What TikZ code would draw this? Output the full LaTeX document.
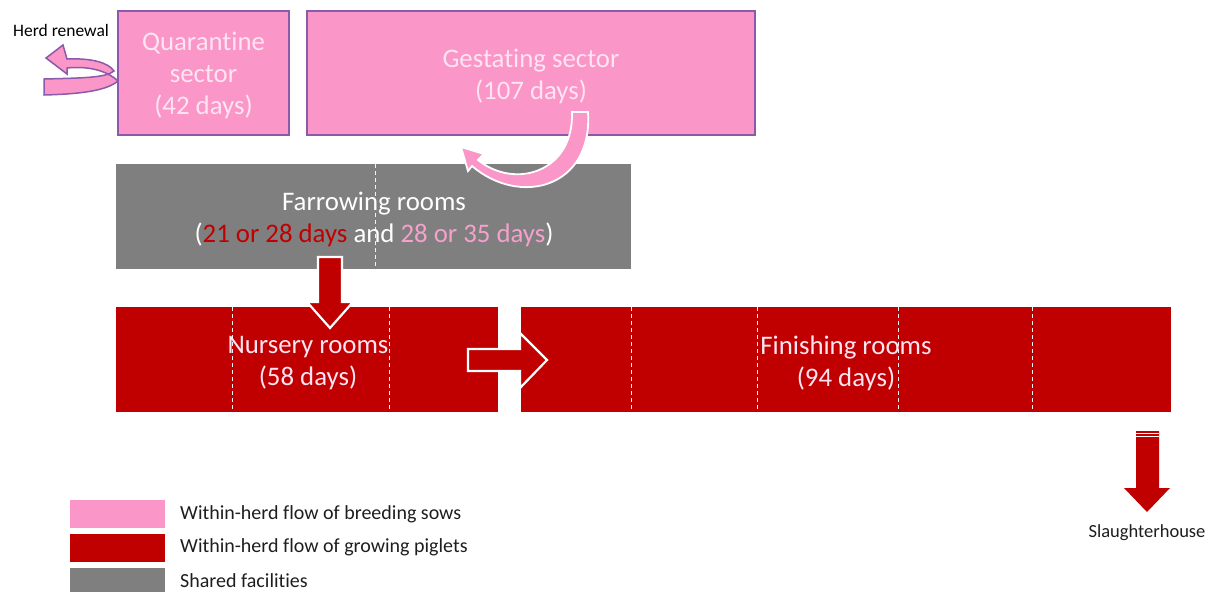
\documentclass[tikz,border=0pt]{standalone}
\usepackage{fontspec}
\setmainfont{Carlito}[Ligatures=NoCommon, Contextuals=NoAlternate]
\definecolor{pinkf}{RGB}{250,150,200}
\definecolor{purp}{RGB}{140,90,170}
\definecolor{pinktxt}{RGB}{255,228,242}
\definecolor{grayf}{RGB}{127,127,127}
\definecolor{redf}{RGB}{192,0,0}
\definecolor{pinkt}{RGB}{245,160,205}
\definecolor{txtdark}{RGB}{30,30,30}
\tikzset{
  pinkbox/.style={draw=purp, line width=1.8pt, fill=pinkf, text=pinktxt, align=center, font=\fontsize{26.8}{31.5}\selectfont, inner sep=0pt},
  graybox/.style={fill=grayf, inner sep=0pt},
  redbox/.style={fill=redf, inner sep=0pt},
  bigtxt/.style={align=center, font=\fontsize{26.8}{32}\selectfont, inner sep=0pt},
  sep/.style={draw=white!90!gray, line width=0.9pt, dash pattern=on 4pt off 3pt},
  blockarrow/.style={fill=redf, draw=white, line width=2.2pt, line join=miter},
  legbox/.style={minimum width=95pt, minimum height=28pt, inner sep=0pt},
  legtxt/.style={anchor=west, text=txtdark, font=\fontsize{20}{22}\selectfont, inner sep=0pt},
  smalltxt/.style={text=txtdark, font=\fontsize{18.5}{20}\selectfont, inner sep=0pt}
}
\begin{document}
\begin{tikzpicture}[x=1pt,y=-1pt]
\useasboundingbox (0,0) rectangle (1211,592);
% boxes
\node[pinkbox, minimum width=171pt, minimum height=124pt] (quar) at (203.5,73) {};
\node[bigtxt, text=pinktxt] (quart) at (203.5,75) {Quarantine\\sector\\(42 days)};
\node[pinkbox, minimum width=448pt, minimum height=124pt] (gest) at (531,73) {};
\node[bigtxt, text=pinktxt] (gestt) at (531,76) {Gestating sector\\(107 days)};
\node[graybox, minimum width=515pt, minimum height=105pt] (farr) at (373.5,216.5) {};
\draw[sep] (farr.north -| 375,0) -- (farr.south -| 375,0);
\node[bigtxt, text=white] (farrt) at (374,219)
  {Farrowing rooms\\(\textcolor{redf}{21 or 28 days} and \textcolor{pinkt}{28 or 35 days})};
\node[redbox, minimum width=382pt, minimum height=105pt] (nurs) at (307,359.5) {};
\node[redbox, minimum width=650pt, minimum height=105pt] (fini) at (846,359.5) {};
\foreach \xx in {232,389} \draw[sep] (\xx,307) -- (\xx,412);
\foreach \xx in {631,757,898,1032} \draw[sep] (\xx,307) -- (\xx,412);
\node[bigtxt, text=pinktxt] (nurst) at (308,363) {Nursery rooms\\(58 days)};
\node[bigtxt, text=pinktxt] (finit) at (846,363) {Finishing rooms\\(94 days)};
% arrow farrowing -> nursery
\draw[blockarrow] (318,257) -- (342,257) -- (342,302) -- (353,302) -- (330,328) -- (307,302) -- (318,302) -- cycle;
% arrow nursery -> finishing
\draw[blockarrow] (468,349) -- (520,349) -- (520,333) -- (547,360) -- (520,388) -- (520,371) -- (468,371) -- cycle;
% slaughterhouse arrow
\fill[redf] (1136,431) -- (1159,431) -- (1159,488) -- (1170,488) -- (1147,512) -- (1124,488) -- (1136,488) -- cycle;
\draw[white, line width=0.9pt] (1136,433.5) -- (1159,433.5) (1136,436.5) -- (1159,436.5);
\node[smalltxt] (slau) at (1147,533) {Slaughterhouse};
% gestating -> farrowing curved arrow
\draw[fill=pinkf, draw=white, line width=1.8pt, line join=miter]
  (572,112) -- (588,112) .. controls (593,188) and (520,207) .. (472,166)
  -- (468,171) -- (461,147) -- (484,154) -- (478,160)
  .. controls (515,190) and (574,172) .. (572,112) -- cycle;
% herd renewal arrow
\draw[fill=pinkf, draw=purp, line width=1.5pt, line join=miter]
  (44,79) .. controls (80,78) and (106,78) .. (114,71)
  .. controls (108,62) and (90,58) .. (67,59)
  -- (63,45) -- (46,58) -- (67,74) -- (67,68)
  .. controls (88,66) and (106,70) .. (118,81)
  .. controls (106,91) and (80,94) .. (44,95) -- cycle;
\node[smalltxt, text=black, font=\fontsize{17.5}{20}\selectfont] (herd) at (61,30) {Herd renewal};
% legend
\node[legbox, fill=pinkf] (l1) at (117.5,514) {};
\node[legbox, fill=redf] (l2) at (117.5,548) {};
\node[legbox, fill=grayf] (l3) at (117.5,582) {};
\node[legtxt] (t1) at (180,514) {Within-herd flow of breeding sows};
\node[legtxt] (t2) at (180,547) {Within-herd flow of growing piglets};
\node[legtxt] (t3) at (180,581) {Shared facilities};
\end{tikzpicture}
\end{document}
